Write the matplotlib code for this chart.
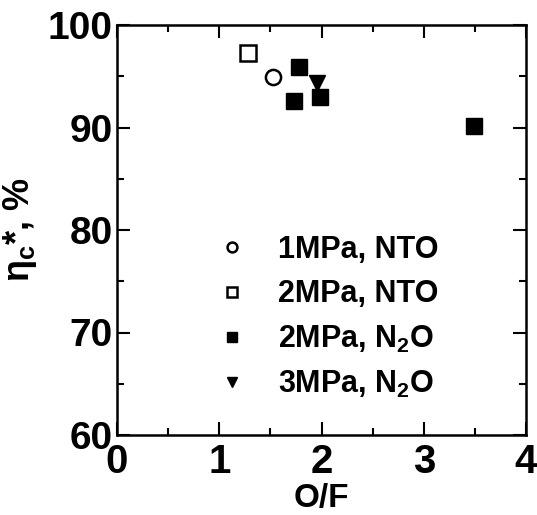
import matplotlib
matplotlib.use('Agg')
import matplotlib.pyplot as plt
from matplotlib.ticker import MultipleLocator

plt.rcParams['font.family'] = ['Liberation Sans', 'DejaVu Sans']
plt.rcParams['font.weight'] = 'bold'
plt.rcParams['mathtext.fontset'] = 'custom'
plt.rcParams['mathtext.rm'] = 'Liberation Sans:bold'
plt.rcParams['mathtext.bf'] = 'Liberation Sans:bold'
plt.rcParams['mathtext.it'] = 'Liberation Sans:italic'

# data
of_1mpa_nto = [1.53]
eta_1mpa_nto = [94.9]
of_2mpa_nto = [1.28]
eta_2mpa_nto = [97.3]
of_2mpa_n2o = [1.73, 1.78, 1.99, 3.49]
eta_2mpa_n2o = [92.6, 95.9, 92.95, 90.1]
of_3mpa_n2o = [1.96]
eta_3mpa_n2o = [94.3]

labels = ['1MPa, NTO', '2MPa, NTO', r'2MPa, N$_\mathbf{2}$O', r'3MPa, N$_\mathbf{2}$O']

fig = plt.figure(figsize=(5.37, 5.15), dpi=100)
ax = fig.add_axes([117/537, 80/515, 409/537, 410/515])

ms = 11.5
ax.plot(of_1mpa_nto, eta_1mpa_nto, 'o', ms=ms*0.95, mfc='white', mec='black', mew=1.8, ls='none', label=labels[0])
ax.plot(of_2mpa_nto, eta_2mpa_nto, 's', ms=ms, mfc='white', mec='black', mew=1.8, ls='none', label=labels[1])
ax.plot(of_3mpa_n2o, eta_3mpa_n2o, 'v', ms=ms, color='black', ls='none', label=labels[3], zorder=3)
ax.plot(of_2mpa_n2o, eta_2mpa_n2o, 's', ms=ms, color='black', ls='none', label=labels[2], zorder=3)

h, l = ax.get_legend_handles_labels()
order = [0, 1, 3, 2]
leg = ax.legend([h[i] for i in order], [l[i] for i in order],
                loc='upper left', bbox_to_anchor=(217/537, 1 - 235/515),
                bbox_transform=fig.transFigure, frameon=False,
                fontsize=22, markerscale=0.65, handlelength=1.0,
                handletextpad=1.0, labelspacing=0.47, borderpad=0, borderaxespad=0)

ax.set_xlim(0, 4)
ax.set_ylim(60, 100)
ax.xaxis.set_major_locator(MultipleLocator(1))
ax.xaxis.set_minor_locator(MultipleLocator(0.5))
ax.yaxis.set_major_locator(MultipleLocator(10))
ax.yaxis.set_minor_locator(MultipleLocator(5))
ax.tick_params(which='both', direction='in', top=True, right=True, width=1.5)
ax.tick_params(which='major', length=9.5)
ax.tick_params(which='minor', length=5)
ax.tick_params(axis='x', labelsize=29, pad=6)
ax.tick_params(axis='y', labelsize=28, pad=3)
for s in ax.spines.values():
    s.set_linewidth(1.8)

ax.set_xlabel('O/F', fontsize=24, fontweight='bold', labelpad=1)
ax.set_ylabel(r'$\mathrm{\eta}_\mathbf{c}$*, %', fontsize=26, fontweight='bold', labelpad=6)

fig.savefig('out.png', dpi=100)
